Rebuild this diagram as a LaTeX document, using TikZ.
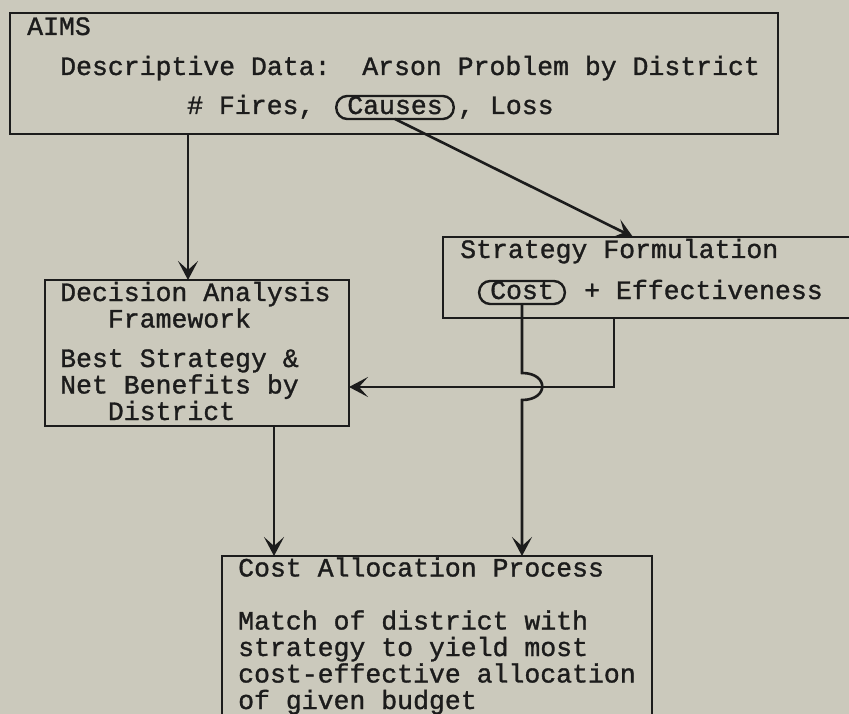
\documentclass[tikz,border=0pt]{standalone}
\usepackage{fontspec}
\setmonofont{Liberation Mono}[FakeBold=1.2]
\usetikzlibrary{arrows.meta}
\definecolor{paper}{RGB}{203,201,188}
\definecolor{ink}{RGB}{28,28,28}
\frenchspacing

\begin{document}
\begin{tikzpicture}[x=1pt,y=-1pt,
    box/.style={draw=ink,line width=2.4pt,anchor=north west,inner sep=0pt,outer sep=0pt},
    txt/.style={anchor=base west,inner sep=0pt,align=left,text=ink,
      font=\ttfamily\fontsize{26.5}{26.5}\selectfont},
    oval/.style={txt,anchor=base,draw=ink,line width=2.4pt,rounded corners=11pt,
      text height=15pt,text depth=2pt,inner xsep=11pt,inner ysep=3pt,outer sep=0pt},
    arr/.style={draw=ink,line width=2.6pt,-{Stealth[length=19pt,width=20pt,inset=9pt]}}]
  \useasboundingbox (0,0) rectangle (849,714);
  \fill[paper] (0,0) rectangle (849,714);
  \clip (0,0) rectangle (849,714);

  % boxes
  \node[box,minimum width=768pt,minimum height=121pt] (aims) at (10,13) {};
  \node[box,minimum width=304pt,minimum height=146pt] (dec) at (45,280) {};
  \node[box,minimum width=430pt,minimum height=81pt] (strat) at (443,237) {};
  \node[box,minimum width=430pt,minimum height=200pt] (alloc) at (222,556) {};

  % texts (multi-line ones sit on their last baseline)
  \node[txt] (aimsT) at (27,35) {AIMS};
  \node[txt] (descT) at (60,75) {Descriptive Data:\ \ Arson Problem by District};
  \node[txt] (fires) at (187,114) {\# Fires,};
  \node[oval] (causes) at (395,114) {Causes};
  \node[txt] (loss) at (458,114) {, Loss};

  \node[txt] (stratT) at (460,258) {Strategy Formulation};
  \node[oval] (cost) at (522,299) {Cost};
  \node[txt] (effect) at (584,299) {+ Effectiveness};

  \node[txt] (decT) at (60,420) {Decision Analysis\\\hspace*{1.8em}Framework\\[13pt]Best Strategy \&\\Net Benefits by\\\hspace*{1.8em}District};

  \node[txt] (allocT) at (238,709) {Cost Allocation Process\\[26.5pt]Match of district with\\strategy to yield most\\cost-effective allocation\\of given budget};

  % connectors
  \coordinate (dropA) at (188,0);
  \coordinate (dropD) at (274,0);
  \coordinate (dropS) at (614,0);
  \coordinate (sIn) at (633,0);
  \coordinate (joinY) at (0,387);
  \coordinate (hopT) at (522,373);
  \coordinate (hopB) at (522,400);

  \draw[arr] (aims.south -| dropA) -- (dec.north -| dropA);
  \draw[arr] (causes.south) -- (strat.north -| sIn);
  \draw[arr] (strat.south -| dropS) |- (dec.east |- joinY);
  \draw[arr] (cost.south) -- (hopT) .. controls (549,373) and (549,400) .. (hopB) -- (alloc.north -| hopB);
  \draw[arr] (dec.south -| dropD) -- (alloc.north -| dropD);
\end{tikzpicture}
\end{document}
